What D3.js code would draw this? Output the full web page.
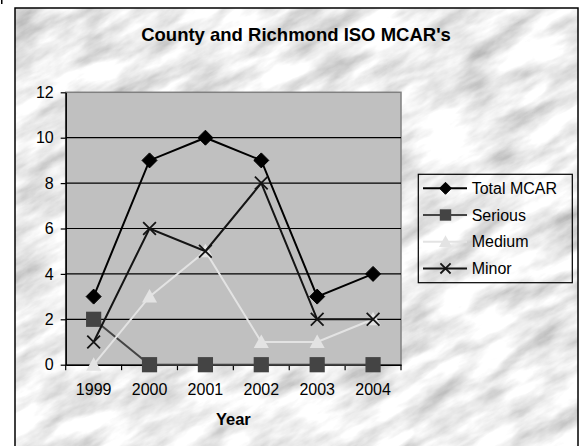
<!DOCTYPE html>
<html>
<head>
<meta charset="utf-8">
<script src="https://cdn.jsdelivr.net/npm/d3@7"></script>
<style>
  body { margin: 0; background: #fff; }
  svg { display: block; }
  text { font-family: Arial, "Liberation Sans", sans-serif; fill: #000; }
</style>
</head>
<body>
<svg id="chart" width="583" height="446"></svg>
<script>
const years = ['1999', '2000', '2001', '2002', '2003', '2004'];
const totalMcar = [3, 9, 10, 9, 3, 4];
const serious = [2, 0, 0, 0, 0, 0];
const medium = [0, 3, 5, 1, 1, 2];
const minor = [1, 6, 5, 8, 2, 2];
const yTicks = [0, 2, 4, 6, 8, 10, 12];

const SERIES = [
    { name: 'Total MCAR', values: totalMcar, color: '#000000', marker: 'diamond' },
    { name: 'Serious', values: serious, color: '#444444', marker: 'square' },
    { name: 'Medium', values: medium, color: '#e3e3e3', marker: 'triangle' },
    { name: 'Minor', values: minor, color: '#141414', marker: 'cross' }
];

const svg = d3.select('#chart');
const plot = { left: 65.7, right: 401, top: 92.3, bottom: 364.7 };

// marble background
const defs = svg.append('defs');
const filter = defs.append('filter').attr('id', 'marble')
    .attr('x', 0).attr('y', 0).attr('width', '100%').attr('height', '100%');
filter.append('feTurbulence')
    .attr('type', 'fractalNoise')
    .attr('baseFrequency', '0.016 0.05')
    .attr('numOctaves', 5)
    .attr('seed', 3)
    .attr('result', 'noise');
filter.append('feColorMatrix')
    .attr('in', 'noise')
    .attr('type', 'matrix')
    .attr('values', '-1.0 0 0 0 1.36  -1.0 0 0 0 1.36  -1.0 0 0 0 1.36  0 0 0 0 1');
defs.append('clipPath').attr('id', 'chartClip')
    .append('rect').attr('x', 15).attr('y', 8).attr('width', 563).attr('height', 450);

svg.append('g').attr('clip-path', 'url(#chartClip)')
    .append('g').attr('transform', 'rotate(-30 296 230)')
    .append('rect')
    .attr('x', -300).attr('y', -300).attr('width', 1200).attr('height', 1100)
    .attr('fill', '#fff')
    .attr('filter', 'url(#marble)');

svg.append('rect')
    .attr('x', 15).attr('y', 8).attr('width', 563).attr('height', 450)
    .attr('fill', 'none').attr('stroke', '#000').attr('stroke-width', 1.5);
svg.append('rect').attr('x', 1).attr('y', 0).attr('width', 1.5).attr('height', 4).attr('fill', '#000');

const x = d3.scaleBand().domain(years).range([plot.left, plot.right]);
const y = d3.scaleLinear().domain([0, 12]).range([plot.bottom, plot.top]);
const cx = d => x(d) + x.bandwidth() / 2;

// plot area
svg.append('rect')
    .attr('x', plot.left).attr('y', plot.top)
    .attr('width', plot.right - plot.left).attr('height', plot.bottom - plot.top)
    .attr('fill', '#c0c0c0').attr('stroke', '#808080').attr('stroke-width', 1.5);

svg.append('g').selectAll('line')
    .data(yTicks.filter(t => t > 0 && t < 12))
    .join('line')
    .attr('x1', plot.left).attr('x2', plot.right)
    .attr('y1', d => y(d)).attr('y2', d => y(d))
    .attr('stroke', '#000').attr('stroke-width', 1.2);

// axes
const yAxis = svg.append('g')
    .attr('transform', `translate(${plot.left},0)`)
    .call(d3.axisLeft(y).tickValues(yTicks).tickSize(5).tickPadding(7).tickSizeOuter(0));
yAxis.select('.domain').attr('stroke', '#000').attr('stroke-width', 1.5);
yAxis.selectAll('.tick line').attr('stroke', '#000').attr('stroke-width', 1.2);
yAxis.selectAll('text').attr('font-size', 16).attr('font-family', 'Arial, "Liberation Sans", sans-serif');

const xAxis = svg.append('g')
    .attr('transform', `translate(0,${plot.bottom})`)
    .call(d3.axisBottom(x).tickSize(0).tickPadding(19));
xAxis.select('.domain').attr('stroke', '#000').attr('stroke-width', 1.5);
xAxis.selectAll('text').attr('font-size', 16).attr('font-family', 'Arial, "Liberation Sans", sans-serif');

svg.append('g').selectAll('line')
    .data(years.map(d => x(d)).concat([plot.right]))
    .join('line')
    .attr('x1', d => d).attr('x2', d => d)
    .attr('y1', plot.bottom).attr('y2', plot.bottom + 5.5)
    .attr('stroke', '#000').attr('stroke-width', 1.2);

// markers
function drawMarker(g, type, color, size) {
    const h = size / 2;
    if (type === 'diamond') {
        g.append('path').attr('d', `M0,${-h}L${h},0L0,${h}L${-h},0Z`)
            .attr('fill', color).attr('stroke', color).attr('stroke-width', 1);
    } else if (type === 'square') {
        g.append('rect').attr('x', -h * 0.95).attr('y', -h * 0.95)
            .attr('width', size * 0.95).attr('height', size * 0.95)
            .attr('fill', color);
    } else if (type === 'triangle') {
        g.append('path').attr('d', `M0,${-h}L${h},${h * 0.8}L${-h},${h * 0.8}Z`)
            .attr('fill', color);
    } else {
        const c = h * 0.85;
        g.append('path').attr('d', `M${-c},${-c}L${c},${c}M${-c},${c}L${c},${-c}`)
            .attr('stroke', color).attr('stroke-width', 1.8).attr('fill', 'none');
    }
}

const line = d3.line().x(d => cx(d.year)).y(d => y(d.value));

SERIES.forEach(s => {
    const pts = years.map((yr, i) => ({ year: yr, value: s.values[i] }));
    const g = svg.append('g');
    g.append('path').datum(pts)
        .attr('d', line)
        .attr('fill', 'none').attr('stroke', s.color).attr('stroke-width', 2);
    pts.forEach(p => {
        const m = g.append('g').attr('transform', `translate(${cx(p.year)},${y(p.value)})`);
        drawMarker(m, s.marker, s.color, s.marker === 'square' ? 16 : 15);
    });
});

// title
svg.append('text')
    .attr('x', 296).attr('y', 41)
    .attr('text-anchor', 'middle')
    .attr('font-size', 18.5).attr('font-weight', 'bold')
    .text("County and Richmond ISO MCAR's");

svg.append('text')
    .attr('x', (plot.left + plot.right) / 2).attr('y', 425)
    .attr('text-anchor', 'middle')
    .attr('font-size', 16.5).attr('font-weight', 'bold')
    .text('Year');

// legend
const legend = svg.append('g');
legend.append('rect')
    .attr('x', 418.3).attr('y', 174.3).attr('width', 154).attr('height', 108.4)
    .attr('fill', 'none').attr('stroke', '#000').attr('stroke-width', 1.2);

SERIES.forEach((s, i) => {
    const ly = 188.3 + i * 26.7;
    const row = legend.append('g');
    row.append('line')
        .attr('x1', 423).attr('x2', 467).attr('y1', ly).attr('y2', ly)
        .attr('stroke', s.color).attr('stroke-width', 2);
    const m = row.append('g').attr('transform', `translate(445.5,${ly})`);
    drawMarker(m, s.marker, s.color, s.marker === 'triangle' ? 13 : 12);
    row.append('text')
        .attr('x', 471.7).attr('y', ly)
        .attr('dy', '0.36em')
        .attr('font-size', 16)
        .text(s.name);
});
</script>
</body>
</html>
